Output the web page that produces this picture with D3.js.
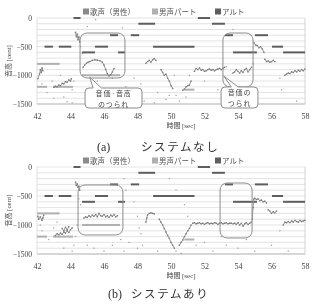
<!DOCTYPE html>
<html><head><meta charset="utf-8">
<script src="https://cdn.jsdelivr.net/npm/d3@7"></script>
<style>body{margin:0;background:#fff}svg{display:block;filter:grayscale(1)}</style>
</head><body>
<script>
const xTicks = [42,44,46,48,50,52,54,56,58];
const yTicks = [0,-500,-1000,-1500];
const gridLevels = [0,-100,-200,-300,-400,-500,-600,-700,-800,-900,-1000,-1100,-1200,-1300,-1400,-1500];
const legendLabels = ["歌声（男性）","男声パート","アルト"];

// score notes: [start, end, cents]
const altoNotes = [[42.45,42.95,-500],[43.3,44.05,-500],[44.18,44.6,0],[44.69,45.46,-600],[45.46,46.24,-500],[46.36,46.84,-300],[46.84,47.25,-600],[47.6,48.1,-300],[48.05,49.05,-100],[48.93,51.4,-500],[51.6,52.33,0],[52.45,53.22,-100],[53.22,53.7,-300],[53.7,55.13,-600],[55.01,55.79,-300],[56.03,56.69,-500],[56.69,58.0,-600]];
const maleNotes = [[42.0,43.35,-800],[42.0,42.6,-1200],[42.96,44.15,-1200],[44.69,46.96,-1000],[50.8,51.4,-1250]];

// singing voice traces (a) without system
const voiceA = [
 [[42.05,-1060],[42.15,-980],[42.2,-900],[42.25,-950],[42.3,-870],[42.35,-920]],
 [[43.0,-1210],[43.1,-1190],[43.2,-1200],[43.3,-1170],[43.4,-1180],[43.5,-1140],[43.6,-1150],[43.7,-1110],[43.8,-1120],[43.9,-1080],[44.0,-1100],[44.05,-1060]],
 [[44.3,-250],[44.35,-330],[44.4,-280],[44.45,-380],[44.5,-330],[44.55,-420]],
 [[44.75,-860],[44.85,-820],[44.95,-790],[45.05,-770],[45.15,-760],[45.3,-740],[45.45,-730],[45.6,-735],[45.75,-745],[45.9,-770],[46.0,-820],[46.1,-900],[46.2,-970],[46.3,-1010],[46.4,-990],[46.5,-940],[46.6,-880]],
 [[48.5,-790],[48.6,-760],[48.7,-740],[48.8,-770],[48.9,-730],[49.0,-710],[49.1,-740]],
 [[49.4,-900],[49.5,-950],[49.6,-1000],[49.7,-980],[49.8,-1050],[49.9,-1100],[50.0,-1180],[50.1,-1230]],
 [[50.7,-1260],[50.8,-1240],[50.9,-1200],[51.0,-1180],[51.1,-1170],[51.2,-1100]],
 [[51.4,-930],[51.5,-880],[51.6,-900],[51.7,-870],[51.8,-910],[51.9,-900],[52.0,-930],[52.1,-920],[52.2,-900],[52.3,-890],[52.4,-910],[52.5,-900],[52.6,-920],[52.7,-900],[52.8,-890],[52.9,-880],[53.0,-900],[53.1,-880],[53.2,-860]],
 [[53.7,-960],[53.8,-940],[53.9,-900],[54.0,-930],[54.1,-960],[54.2,-920],[54.3,-950],[54.4,-900],[54.5,-880],[54.6,-940],[54.7,-900],[54.8,-860]],
 [[54.95,-430],[55.05,-470],[55.15,-480],[55.25,-520],[55.35,-500],[55.45,-540],[55.55,-600]],
 [[55.6,-720],[55.7,-760],[55.8,-750],[55.9,-770],[56.0,-760],[56.1,-740],[56.2,-760]],
 [[56.8,-1000],[56.9,-980],[57.0,-960],[57.1,-970],[57.2,-940],[57.3,-950],[57.4,-920],[57.5,-940],[57.6,-910],[57.7,-930],[57.8,-900],[57.9,-920],[58.0,-890]]
];
const noiseA = [[42.3,-1150],[42.6,-1300],[42.9,-1100],[43.0,-1400],[43.4,-1000],[43.6,-1380],[44.1,-1250],[44.2,-1100],[44.6,-500],[44.7,-620],[46.5,-1050],[47.0,-1420],[47.3,-1200],[47.5,-1300],[47.8,-1050],[48.0,-1350],[48.2,-1150],[48.4,-1450],[49.2,-1300],[49.7,-1420],[50.3,-1350],[50.5,-1450],[50.9,-1380],[51.1,-1000],[52.0,-1100],[52.8,-1250],[53.3,-850],[53.5,-1450],[54.2,-1300],[54.9,-800],[56.5,-1050],[56.6,-1250],[57.5,-1450],[45.0,-150],[45.6,-1100],[44.1,-1480],[43.8,-1460],[46.0,-1300],[47.2,-1480],[49.0,-1480],[45.5,-30],[47.1,-170],[53.7,-200],[49.9,-1350],[50.2,-1000]];

// singing voice traces (b) with system
const voiceB = [
 [[42.05,-850],[42.1,-900],[42.2,-860],[42.3,-920],[42.35,-880],[42.4,-830]],
 [[43.1,-1180],[43.2,-1150],[43.3,-1170],[43.4,-1140],[43.5,-1160],[43.6,-1120],[43.7,-1140],[43.8,-1100],[43.9,-1130],[44.0,-1080],[44.1,-1050]],
 [[43.5,-1060],[43.6,-1100],[43.7,-1040],[43.8,-1080],[43.9,-1030]],
 [[44.3,-260],[44.35,-320],[44.4,-290],[44.45,-350],[44.5,-330],[44.55,-400]],
 [[44.8,-880],[44.9,-860],[45.0,-870],[45.1,-840],[45.2,-860],[45.3,-830],[45.4,-850],[45.5,-820],[45.6,-860],[45.7,-800],[45.8,-840],[45.9,-850],[46.0,-820],[46.1,-860],[46.2,-840],[46.3,-870],[46.4,-830],[46.5,-850],[46.6,-820],[46.7,-860],[46.8,-840]],
 [[48.5,-950],[48.55,-880],[48.6,-830],[48.7,-800],[48.8,-790],[48.9,-800],[49.0,-810]],
 [[49.3,-900],[49.4,-950],[49.5,-1000],[49.6,-1060],[49.7,-1120],[49.8,-1180],[49.9,-1230],[50.0,-1300],[50.1,-1350],[50.2,-1400]],
 [[50.5,-1350],[50.6,-1300],[50.7,-1260],[50.8,-1200],[50.9,-1150],[51.0,-1100],[51.1,-1060],[51.2,-1000]],
 [[51.3,-970],[51.4,-960],[51.5,-980],[51.6,-970],[51.7,-960],[51.8,-980],[51.9,-970],[52.0,-990],[52.1,-970],[52.2,-960],[52.3,-980],[52.4,-970],[52.5,-980],[52.6,-960],[52.7,-970],[52.8,-990],[52.9,-970],[53.0,-960],[53.1,-980],[53.2,-970],[53.3,-960],[53.4,-980],[53.5,-970],[53.6,-970]],
 [[53.7,-980],[53.8,-970],[53.9,-990],[54.0,-960],[54.1,-1000],[54.2,-970],[54.3,-1020],[54.4,-980],[54.5,-960],[54.6,-990],[54.7,-970],[54.8,-950]],
 [[54.85,-900],[54.9,-700],[54.95,-550],[55.0,-540],[55.1,-560],[55.2,-550],[55.3,-580],[55.4,-570],[55.5,-600],[55.6,-590],[55.7,-620]],
 [[55.8,-740],[55.9,-760],[56.0,-800],[56.1,-770],[56.2,-790],[56.3,-760]],
 [[56.7,-1000],[56.8,-950],[56.9,-960],[57.0,-940],[57.1,-960],[57.2,-930],[57.3,-950],[57.4,-920],[57.5,-940],[57.6,-950],[57.7,-920],[57.8,-940],[57.9,-930],[58.0,-920]]
];
const noiseB = [[42.5,-1200],[42.7,-1250],[43.0,-1050],[44.2,-1350],[44.1,-1450],[43.6,-1400],[44.3,-1200],[44.4,-1000],[45.0,-1350],[45.4,-1400],[46.0,-1450],[46.5,-1350],[47.0,-1250],[47.2,-1450],[47.5,-1300],[48.0,-1400],[48.3,-1350],[49.2,-1450],[50.3,-1450],[50.6,-1490],[51.5,-1350],[52.0,-1300],[52.5,-1450],[53.0,-1200],[53.3,-1350],[54.0,-1400],[54.5,-1250],[55.0,-1450],[56.0,-1350],[57.0,-1450],[44.5,-550],[44.6,-650],[47.2,-200],[47.3,-400],[47.8,-600],[48.0,-850],[48.1,-1050],[48.2,-1150],[43.2,-950],[56.5,-1100],[49.9,-200],[50.3,-400],[50.5,-500],[50.8,-650],[51.0,-850],[42.2,-1000],[42.3,-1100]];

const W = 314, H = 307;
const svg = d3.select("body").append("svg").attr("width", W).attr("height", H);
const serif = "'Liberation Serif','DejaVu Serif',serif";
const cjk = "'Noto Sans CJK JP','Noto Sans',sans-serif";
const colors = {voice:"#8a8a8a", male:"#b0b0b0", alto:"#5e5e5e"};
const legendColors = [colors.voice, colors.male, colors.alto];

function chart(cfg) {
  const x = d3.scaleLinear().domain([42,58]).range([37,305]);
  const y = d3.scaleLinear().domain([0,-1500]).range([cfg.top, cfg.bottom]);
  const g = svg.append("g");

  // grid
  g.selectAll("line.grid").data(gridLevels).join("line")
    .attr("x1", x(42)).attr("x2", x(58))
    .attr("y1", d => y(d)).attr("y2", d => y(d))
    .attr("stroke", d => d === -1500 ? "#9a9a9a" : "#dcdcdc").attr("stroke-width", 0.8);
  g.append("line").attr("x1", x(58)).attr("x2", x(58)).attr("y1", y(0)).attr("y2", y(-1500)).attr("stroke","#c8c8c8").attr("stroke-width",0.8);
  g.append("line").attr("x1", x(42)).attr("x2", x(42)).attr("y1", y(0)).attr("y2", y(-1500)).attr("stroke","#d8d8d8").attr("stroke-width",0.8);

  // axes
  const xa = g.append("g").attr("transform", `translate(0,${cfg.bottom})`)
    .call(d3.axisBottom(x).tickValues(xTicks).tickSize(0).tickPadding(9).tickFormat(d3.format("d")));
  xa.select(".domain").remove();
  xa.selectAll("text").attr("font-family", serif).attr("font-size", 8).attr("fill", "#444");
  const ya = g.append("g").attr("transform", `translate(${x(42)},0)`)
    .call(d3.axisLeft(y).tickValues(yTicks).tickSize(0).tickPadding(5).tickFormat(d3.format("d")));
  ya.select(".domain").remove();
  ya.selectAll("text").attr("font-family", serif).attr("font-size", 7.5).attr("fill", "#444");

  // noise dots
  g.selectAll("rect.noise").data(cfg.noise).join("rect")
    .attr("x", d => x(d[0]) - 0.6).attr("y", d => y(d[1]) - 0.6)
    .attr("width", 1.2).attr("height", 1.2).attr("fill", "#9a9a9a");

  // score notes
  const notes = (arr, col) => g.selectAll(null).data(arr).join("line")
    .attr("x1", d => x(d[0])).attr("x2", d => x(d[1]))
    .attr("y1", d => y(d[2])).attr("y2", d => y(d[2]))
    .attr("stroke", col).attr("stroke-width", 2);
  notes(maleNotes, colors.male);
  notes(altoNotes, colors.alto);

  // voice
  const line = d3.line().x(d => x(d[0])).y(d => y(d[1]));
  g.selectAll("path.voice").data(cfg.voice).join("path")
    .attr("d", line).attr("fill", "none").attr("stroke", colors.voice).attr("stroke-width", 0.9);
  g.selectAll("rect.vd").data(cfg.voice.flat()).join("rect")
    .attr("x", d => x(d[0]) - 0.7).attr("y", d => y(d[1]) - 0.7)
    .attr("width", 1.4).attr("height", 1.4).attr("fill", "#7a7a7a");

  // boxes
  cfg.boxes.forEach(b => {
    g.append("rect").attr("x", x(b[0])).attr("y", y(b[2]))
      .attr("width", x(b[1]) - x(b[0])).attr("height", y(b[3]) - y(b[2]))
      .attr("rx", 7).attr("fill", "none").attr("stroke", "#8c8c8c").attr("stroke-width", 1);
  });
  // callouts
  (cfg.callouts || []).forEach(c => {
    const lx0 = x(c.label[0]), lx1 = x(c.label[1]), ly0 = y(c.label[2]), ly1 = y(c.label[3]);
    const bx0 = x(c.tail[0]), bx1 = x(c.tail[1]), ax = x(c.tail[2]), ay = y(c.tail[3]);
    const r = 4;
    const p = d3.path();
    p.moveTo(lx0 + r, ly0);
    p.lineTo(bx0, ly0); p.lineTo(ax, ay); p.lineTo(bx1, ly0);
    p.lineTo(lx1 - r, ly0); p.quadraticCurveTo(lx1, ly0, lx1, ly0 + r);
    p.lineTo(lx1, ly1 - r); p.quadraticCurveTo(lx1, ly1, lx1 - r, ly1);
    p.lineTo(lx0 + r, ly1); p.quadraticCurveTo(lx0, ly1, lx0, ly1 - r);
    p.lineTo(lx0, ly0 + r); p.quadraticCurveTo(lx0, ly0, lx0 + r, ly0);
    p.closePath();
    g.append("path").attr("d", p.toString()).attr("fill", "#fff").attr("stroke", "#8c8c8c").attr("stroke-width", 1);
    c.text.forEach((t, i) => {
      g.append("text").attr("x", (lx0 + lx1) / 2).attr("y", ly0 + 8.2 + i * 10.4)
        .attr("text-anchor", "middle").attr("font-family", cjk)
        .attr("font-size", 7).attr("letter-spacing", 0.8).attr("fill", "#444").text(t);
    });
  });

  // legend
  const lx = [83, 152, 215];
  legendLabels.forEach((lab, i) => {
    g.append("rect").attr("x", lx[i]).attr("y", cfg.legendY - 3.5).attr("width", 6).attr("height", 6).attr("fill", legendColors[i]);
    g.append("text").attr("x", lx[i] + 7).attr("y", cfg.legendY + 2.5)
      .attr("font-family", cjk).attr("font-size", 7.5).attr("fill", "#555").text(lab);
  });

  // axis titles
  const xt = g.append("text").attr("x", 181).attr("y", cfg.bottom + 24).attr("text-anchor", "middle").attr("fill", "#444");
  xt.append("tspan").attr("font-family", cjk).attr("font-size", 7).text("時間 ");
  xt.append("tspan").attr("font-family", serif).attr("font-size", 7).text("[sec]");
  const yt = g.append("text").attr("transform", `translate(11,${(cfg.top + cfg.bottom) / 2}) rotate(-90)`).attr("text-anchor", "middle").attr("fill", "#444");
  yt.append("tspan").attr("font-family", cjk).attr("font-size", 7).text("音高 ");
  yt.append("tspan").attr("font-family", serif).attr("font-size", 7).text("[cent]");

  // caption
  g.append("text").attr("x", cfg.capX).attr("y", cfg.capY).attr("font-family", serif).attr("font-size", 12).attr("fill", "#333").text(cfg.capA);
  g.append("text").attr("x", cfg.capX2).attr("y", cfg.capY).attr("font-family", cjk).attr("font-size", 11.5).attr("letter-spacing", 1.6).attr("fill", "#333").text(cfg.capB);
}

chart({top:18, bottom:104, legendY:12, voice:voiceA, noise:noiseA,
  boxes:[[44.57,47.25,-262,-1047],[53.1,54.9,-262,-1203]],
  callouts:[
    {label:[44.87,48.27,-1221,-1570], tail:[45.35,45.85,45.15,-1030], text:["音価·音高","のつられ"]},
    {label:[52.99,55.19,-1203,-1570], tail:[53.6,54.0,53.15,-1010], text:["音価の","つられ"]}
  ],
  capX:97, capX2:141, capY:151, capA:"(a)", capB:"システムなし"});
chart({top:167, bottom:254, legendY:161, voice:voiceB, noise:noiseB,
  boxes:[[44.45,47.13,-310,-1172],[52.93,54.84,-276,-1224]],
  capX:108, capX2:131, capY:298, capA:"(b)", capB:"システムあり"});
</script>
</body></html>
